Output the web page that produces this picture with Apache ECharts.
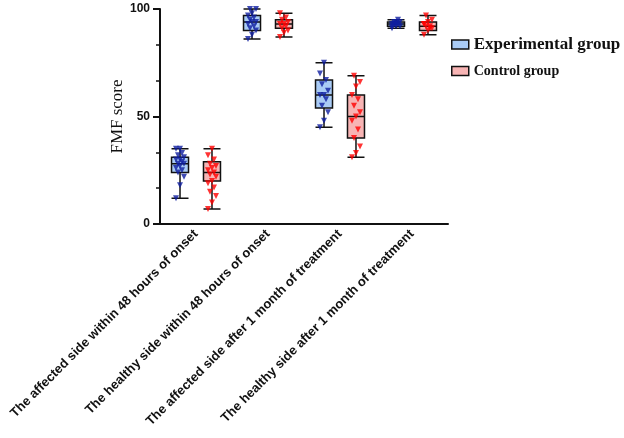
<!DOCTYPE html>
<html><head><meta charset="utf-8">
<script src="https://cdn.jsdelivr.net/npm/echarts@6/dist/echarts.min.js"></script>
<style>html,body{margin:0;padding:0;background:#fff}#c{width:624px;height:438px}</style>
</head><body><div id="c"></div>
<script>
const categories = [
  'The affected side within 48 hours of onset',
  'The healthy side within 48 hours of onset',
  'The affected side after 1 month of treatment',
  'The healthy side after 1 month of treatment'
];
const yTicks = [0, 50, 100];
// [min, Q1, median, Q3, max]
const expBox = [[12, 24, 28, 31, 35], [86, 90, 94, 97, 100], [45, 54, 60, 67, 75], [91, 92, 93, 94, 95]];
const ctrlBox = [[7, 20, 24, 29, 35], [87, 91, 93, 95, 98], [31, 40, 50, 60, 69], [88, 90, 92, 94, 97]];
// individual points
const expPts = [
  [12, 18, 22, 24, 25, 26, 27, 28, 28, 29, 30, 30, 31, 32, 33, 35, 35],
  [86, 88, 90, 91, 92, 93, 94, 94, 95, 96, 97, 98, 100, 100],
  [45, 48, 52, 55, 58, 60, 60, 62, 65, 67, 70, 75],
  [91, 92, 92, 93, 93, 93, 93, 94, 94, 95, 92, 94]
];
const ctrlPts = [
  [7, 10, 13, 15, 17, 19, 20, 22, 23, 24, 25, 26, 27, 28, 30, 32, 35],
  [87, 89, 90, 91, 92, 93, 93, 94, 95, 96, 98],
  [31, 33, 36, 40, 44, 48, 50, 52, 55, 58, 60, 64, 66, 69],
  [88, 90, 91, 92, 92, 93, 94, 95, 97, 91, 93]
];

const chart = echarts.init(document.getElementById('c'));
const jit = [-4, 0, 4, -2, 2];
function pts(arr, base) {
  const out = [];
  arr.forEach((vals, ci) => vals.forEach((v, i) => out.push({value: [ci, v], symbolOffset: [base + jit[i % jit.length], 0]})));
  return out;
}
const OFF = 16;
const EXP_FILL = '#a9cbf5', CTRL_FILL = '#f7b4b4';
chart.setOption({
  animation: false,
  grid: {left: 160, top: 9, width: 288, height: 215},
  legend: {
    orient: 'vertical', left: 446, top: 31, itemGap: 11,
    icon: 'rect', itemWidth: 17, itemHeight: 9,
    data: [
      {name: 'Experimental group', itemStyle: {color: EXP_FILL, borderColor: '#111', borderWidth: 1.5},
       textStyle: {fontSize: 17, fontWeight: 'bold', fontFamily: 'Liberation Serif', color: '#111'}},
      {name: 'Control group', itemStyle: {color: CTRL_FILL, borderColor: '#111', borderWidth: 1.5},
       textStyle: {fontSize: 14, fontWeight: 'bold', fontFamily: 'Liberation Serif', color: '#111'}}
    ]
  },
  xAxis: {
    type: 'category', data: categories, boundaryGap: true,
    axisLine: {lineStyle: {color: '#111', width: 2}},
    axisTick: {alignWithLabel: true, length: 6, lineStyle: {color: '#111', width: 2}},
    axisLabel: {rotate: 45, margin: 8, fontSize: 13, fontWeight: 'bold', fontFamily: 'Liberation Sans', color: '#111', interval: 0}
  },
  yAxis: {
    type: 'value', min: 0, max: 100, interval: 50,
    name: 'FMF score', nameLocation: 'middle', nameGap: 34,
    nameTextStyle: {fontSize: 17, fontFamily: 'Liberation Serif', color: '#111'},
    axisLine: {show: true, lineStyle: {color: '#111', width: 2}},
    axisTick: {show: true, length: 7, lineStyle: {color: '#111', width: 2}},
    minorTick: {show: true, splitNumber: 3, length: 4, lineStyle: {color: '#111', width: 1.5}},
    splitLine: {show: false},
    axisLabel: {fontSize: 12, fontWeight: 'bold', fontFamily: 'Liberation Sans', color: '#111', margin: 10,
      formatter: v => yTicks.includes(v) ? String(v) : ''}
  },
  series: [
    {name: 'Experimental group', type: 'boxplot', data: expBox, boxWidth: [17, 17],
     itemStyle: {color: EXP_FILL, borderColor: '#111', borderWidth: 1.5}},
    {name: 'Control group', type: 'boxplot', data: ctrlBox, boxWidth: [17, 17],
     itemStyle: {color: CTRL_FILL, borderColor: '#111', borderWidth: 1.5}},
    {name: 'Experimental group', type: 'scatter', data: pts(expPts, -OFF), symbol: 'triangle', symbolRotate: 180, symbolSize: 6,
     itemStyle: {color: '#0f1ea0'}, z: 5},
    {name: 'Control group', type: 'scatter', data: pts(ctrlPts, OFF), symbol: 'triangle', symbolRotate: 180, symbolSize: 6,
     itemStyle: {color: '#ff0000'}, z: 5}
  ]
});
</script></body></html>
